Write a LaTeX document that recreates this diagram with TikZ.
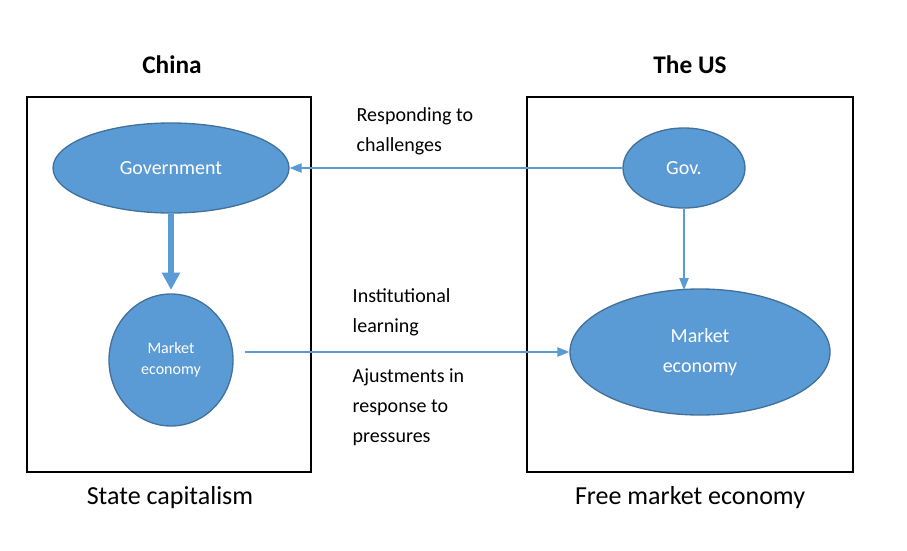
\documentclass[tikz,border=0pt]{standalone}
\usepackage{fontspec}
\setmainfont{Carlito}
\usetikzlibrary{shapes.geometric,arrows.meta}
\definecolor{bfill}{HTML}{5B9BD5}
\definecolor{bline}{HTML}{41719C}
\begin{document}
\begin{tikzpicture}[x=0.75pt,y=-0.75pt,
  ell/.style={ellipse,draw=bline,fill=bfill,line width=1pt,text=white,align=center,inner sep=0pt},
  box/.style={draw=black,line width=1.6pt},
  arr/.style={draw=bfill,line width=1pt,-{Triangle[length=9pt,width=7pt]}},
  lbl/.style={anchor=west,align=left,font=\fontsize{15}{22.5}\selectfont},
  ttl/.style={font=\fontsize{19}{22}\selectfont\bfseries},
  captxt/.style={font=\fontsize{19.5}{22}\selectfont}]
\useasboundingbox (0,0) rectangle (907,550);
\draw[box] (27,97) rectangle (311,472);
\draw[box] (527,97) rectangle (853,472);
\node[ttl] (china) at (172,65) {China};
\node[ttl] (us) at (690,65) {The US};
\node[ell,minimum width=177pt,minimum height=67.5pt,font=\fontsize{15}{18}\selectfont] (gov) at (171,168) {Government};
\node[ell,minimum width=93pt,minimum height=99pt,font=\fontsize{12}{16}\selectfont] (me) at (171,360) {Market\\economy};
\node[ell,minimum width=91.5pt,minimum height=60pt,font=\fontsize{15}{18}\selectfont] (usgov) at (684,168) {Gov.};
\node[ell,minimum width=195pt,minimum height=94.5pt,font=\fontsize{15}{22}\selectfont] (usme) at (700,352) {Market\\economy};
\draw[draw=bfill,line width=4.5pt,-{Triangle[length=13pt,width=13pt]}] (gov.south) -- (171,290);
\coordinate (a1) at (245,352);
\draw[arr] (usgov.west) -- (gov.east);
\draw[arr] (usgov.south) -- (684,290);
\draw[arr] (a1) -- (usme.west);
\node[lbl] (l1) at (352,131) {Responding to\\challenges};
\node[lbl] (l2) at (348,312) {Institutional\\learning};
\node[lbl] (l3) at (348,407) {Ajustments in\\response to\\pressures};
\node[captxt] (c1) at (170,498) {State capitalism};
\node[captxt] (c2) at (690,498) {Free market economy};
\end{tikzpicture}
\end{document}
